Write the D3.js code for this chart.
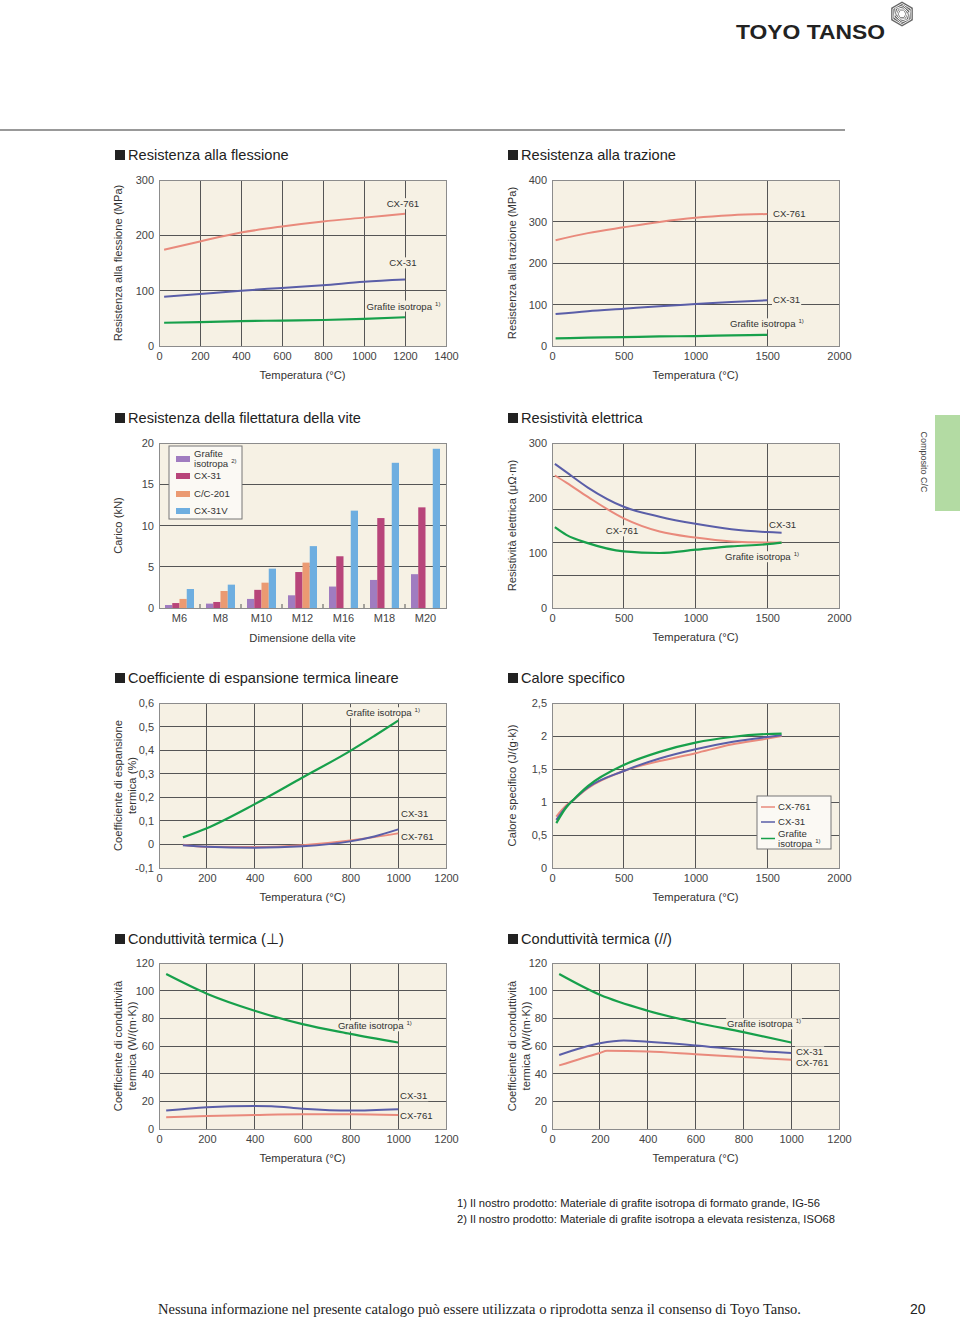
<!DOCTYPE html>
<html><head><meta charset="utf-8">
<script src="https://cdn.jsdelivr.net/npm/d3@7"></script>
<style>
body{margin:0;background:#fff;}
svg{display:block;}
</style></head><body>
<svg id="c" width="960" height="1319" font-family="'Liberation Sans',Arial,sans-serif"></svg>
<script>
// ---------- DATA ----------
// Resistenza alla flessione
const flexTemp = [25, 200, 400, 600, 800, 1000, 1200];
const flexCX761 = [174, 189, 205, 216, 225, 232, 239];
const flexCX31 = [89, 94, 100, 105, 110, 116, 120];
const flexIso = [42, 43, 45, 46, 47, 49, 52];
const flexXTicks = [0, 200, 400, 600, 800, 1000, 1200, 1400];
const flexYTicks = [0, 100, 200, 300];

// Resistenza alla trazione
const tensTemp = [25, 250, 500, 750, 1000, 1250, 1500];
const tensCX761 = [255, 272, 286, 299, 309, 315, 318];
const tensCX31 = [77, 84, 90, 96, 101, 106, 110];
const tensIso = [18.5, 20, 21.5, 23, 24, 25.5, 27];
const tensXTicks = [0, 500, 1000, 1500, 2000];
const tensYTicks = [0, 100, 200, 300, 400];

// Resistenza della filettatura della vite
const screwSizes = ["M6", "M8", "M10", "M12", "M16", "M18", "M20"];
const screwSeries = ["Grafite isotropa", "CX-31", "C/C-201", "CX-31V"];
const screwIso = [0.36, 0.53, 1.1, 1.54, 2.6, 3.4, 4.1];
const screwCX31 = [0.6, 0.73, 2.2, 4.36, 6.27, 10.9, 12.2];
const screwCC201 = [1.1, 2.06, 3.07, 5.5, null, null, null];
const screwCX31V = [2.3, 2.83, 4.77, 7.5, 11.8, 17.6, 19.3];
const screwYTicks = [0, 5, 10, 15, 20];

// Resistività elettrica
const resTemp = [20, 100, 250, 500, 750, 1000, 1250, 1500, 1600];
const resCX31 = [262, 247, 219, 184, 166, 153, 143, 138, 137];
const resCX761 = [241, 228, 202, 163, 139, 128, 121, 119, 119];
const resIso = [147, 133, 118, 103, 100, 106, 112, 116, 119];
const resXTicks = [0, 500, 1000, 1500, 2000];
const resYTicks = [0, 100, 200, 300];
const resYGrid = [60, 120, 180, 240];

// Coefficiente di espansione termica lineare
const expTemp = [100, 200, 400, 600, 800, 900, 1000];
const expIso = [0.03, 0.069, 0.171, 0.284, 0.397, 0.46, 0.525];
const expCX31 = [-0.004, -0.01, -0.014, -0.008, 0.013, 0.034, 0.064];
const expCX761 = [-0.001, -0.01, -0.011, -0.003, 0.017, 0.031, 0.047];
const expXTicks = [0, 200, 400, 600, 800, 1000, 1200];
const expYTicks = [-0.1, 0, 0.1, 0.2, 0.3, 0.4, 0.5, 0.6];

// Calore specifico
const heatTemp = [30, 100, 150, 250, 500, 750, 1000, 1250, 1500, 1600];
const heatIso = [0.68, 0.92, 1.035, 1.24, 1.56, 1.76, 1.90, 1.985, 2.03, 2.035];
const heatCX31 = [0.73, 0.93, 1.035, 1.22, 1.47, 1.66, 1.80, 1.91, 1.985, 2.01];
const heatCX761 = [0.78, 0.95, 1.035, 1.21, 1.47, 1.62, 1.74, 1.87, 1.96, 2.0];
const heatXTicks = [0, 500, 1000, 1500, 2000];
const heatYTicks = [0, 0.5, 1, 1.5, 2, 2.5];

// Conduttività termica (⊥)
const cpIsoTemp = [30, 200, 400, 600, 800, 1000];
const cpIso = [112, 97.8, 85.5, 75.8, 68.8, 62.5];
const cpCX31Temp = [30, 200, 400, 470, 600, 800, 1000];
const cpCX31 = [13.3, 15.7, 16.7, 16.5, 14.7, 13.3, 14.3];
const cpCX761Temp = [30, 200, 400, 600, 800, 1000];
const cpCX761 = [8.5, 9.4, 10.1, 10.6, 10.6, 10.1];

// Conduttività termica (//)
const clIsoTemp = [30, 200, 400, 600, 800, 1000];
const clIso = [112, 97, 85.5, 77, 70, 62.5];
const clCX31Temp = [30, 200, 300, 400, 600, 800, 1000];
const clCX31 = [53.5, 62, 64, 63, 60.4, 57.2, 55];
const clCX761Temp = [30, 200, 230, 400, 600, 800, 1000];
const clCX761 = [46, 55, 56.5, 56, 54, 52, 50];
const condXTicks = [0, 200, 400, 600, 800, 1000, 1200];
const condYTicks = [0, 20, 40, 60, 80, 100, 120];

// ---------- STYLE ----------
const BG = '#f6f1e4', GRID = '#555', FRAME = '#8c8c8c';
const cRed = '#e98a7c', cBlue = '#5a5ea8', cGreen = '#17a04b';
const barColors = ['#a07cc0', '#b8457a', '#eb9a72', '#6eaee0'];
const fmt = d => String(d).replace('.', ',');
const SANS = "'Liberation Sans',Arial,sans-serif";
const NARROW = "'Liberation Sans Narrow','Liberation Sans',Arial,sans-serif";
const TXT = '#333';

const svg = d3.select('#c');
svg.append('rect').attr('width', 960).attr('height', 1319).attr('fill', '#fff');

// Header
svg.append('line').attr('x1', 0).attr('x2', 845).attr('y1', 130).attr('y2', 130)
  .attr('stroke', '#777').attr('stroke-width', 1.5);
svg.append('text').attr('x', 736).attr('y', 39).attr('font-size', 21).attr('font-weight', 'bold')
  .attr('textLength', 149).attr('lengthAdjust', 'spacingAndGlyphs').attr('fill', '#222').text('TOYO TANSO');
{
  const lg = svg.append('g').attr('transform', 'translate(902,14)');
  const hex = r => d3.range(6).map(i => [r * Math.cos(Math.PI / 3 * i + Math.PI / 6), r * Math.sin(Math.PI / 3 * i + Math.PI / 6)]);
  lg.append('polygon').attr('points', hex(12.5).join(' ')).attr('fill', '#666');
  [10.5, 8.5, 6.5, 4.8].forEach((r, i) => {
    lg.append('polygon').attr('points', hex(r).join(' ')).attr('fill', 'none')
      .attr('stroke', '#fff').attr('stroke-width', 0.9).attr('transform', `rotate(${i * 9})`);
  });
  lg.append('polygon').attr('points', hex(3.6).join(' ')).attr('fill', '#fff').attr('transform', 'rotate(30)');
}

// Side tab
svg.append('rect').attr('x', 935).attr('y', 415).attr('width', 25).attr('height', 96).attr('fill', '#b3dba3');
svg.append('text').attr('transform', 'translate(921,462) rotate(90)').attr('text-anchor', 'middle')
  .attr('font-size', 9).attr('fill', '#444').text('Composito C/C');

function sectionTitle(x, y, txt) {
  svg.append('rect').attr('x', x).attr('y', y - 5).attr('width', 10).attr('height', 10).attr('fill', '#222');
  svg.append('text').attr('x', x + 13).attr('y', y).attr('dy', '0.35em').attr('font-size', 14.6)
    .attr('fill', '#222').text(txt);
}

function yTitle(x, cy, lines) {
  lines.forEach((l, i) => {
    svg.append('text').attr('transform', `translate(${x + i * 14.5},${cy}) rotate(-90)`)
      .attr('text-anchor', 'middle').attr('dy', '0.35em').attr('font-size', 11.2).attr('fill', TXT).text(l);
  });
}

function addLabel(g, px, py, txt, sup, anchor) {
  const lg = g.append('g');
  const bg = lg.append('rect').attr('fill', BG);
  const t = lg.append('text').attr('x', px).attr('y', py).attr('dy', '0.35em')
    .attr('font-size', 9.6).attr('text-anchor', anchor || 'start').attr('fill', TXT).text(txt);
  if (sup) t.append('tspan').attr('dx', 3).attr('dy', -4).attr('font-size', 6).text(sup);
  const b = t.node().getBBox();
  bg.attr('x', b.x - 1).attr('y', b.y).attr('width', b.width + 2).attr('height', b.height);
}

function styleAxis(a) {
  a.select('.domain').remove();
  a.attr('font-family', null).attr('font-size', null);
  a.selectAll('text').attr('font-family', NARROW).attr('font-size', 11).attr('fill', '#444');
}

function lineChart(o) {
  const g = svg.append('g');
  const x = d3.scaleLinear().domain(o.xDomain).range([o.left, o.right]);
  const y = d3.scaleLinear().domain(o.yDomain).range([o.bottom, o.top]);
  g.append('rect').attr('x', o.left).attr('y', o.top).attr('width', o.right - o.left)
    .attr('height', o.bottom - o.top).attr('fill', BG);
  g.selectAll(null).data(o.xGrid).join('line')
    .attr('x1', d => x(d)).attr('x2', d => x(d)).attr('y1', o.top).attr('y2', o.bottom)
    .attr('stroke', GRID).attr('stroke-width', 1).attr('shape-rendering', 'crispEdges');
  g.selectAll(null).data(o.yGrid).join('line')
    .attr('y1', d => y(d)).attr('y2', d => y(d)).attr('x1', o.left).attr('x2', o.right)
    .attr('stroke', GRID).attr('stroke-width', 1).attr('shape-rendering', 'crispEdges');
  g.append('rect').attr('x', o.left).attr('y', o.top).attr('width', o.right - o.left)
    .attr('height', o.bottom - o.top).attr('fill', 'none').attr('stroke', FRAME)
    .attr('shape-rendering', 'crispEdges');
  const ax = g.append('g').attr('transform', `translate(0,${o.bottom})`)
    .call(d3.axisBottom(x).tickValues(o.xTicks).tickSize(0).tickPadding(6).tickFormat(fmt));
  styleAxis(ax);
  const ay = g.append('g').attr('transform', `translate(${o.left},0)`)
    .call(d3.axisLeft(y).tickValues(o.yTicks).tickSize(0).tickPadding(5).tickFormat(fmt));
  styleAxis(ay);
  (o.labels || []).forEach(l => addLabel(g, x(l.x), y(l.y), l.text, l.sup, l.anchor));
  o.series.forEach(s => {
    const pts = s.x.map((v, i) => [v, s.y[i]]);
    g.append('path').datum(pts)
      .attr('d', d3.line().x(d => x(d[0])).y(d => y(d[1])).curve(d3.curveMonotoneX))
      .attr('fill', 'none').attr('stroke', s.color).attr('stroke-width', s.w || 2)
      .attr('stroke-linecap', 'butt');
  });
  sectionTitle(o.titleX, o.titleY, o.title);
  yTitle(o.yTitleX, (o.top + o.bottom) / 2, o.yTitle);
  g.append('text').attr('x', (o.left + o.right) / 2).attr('y', o.bottom + 29).attr('dy', '0.35em')
    .attr('text-anchor', 'middle').attr('font-size', 11.2).attr('fill', TXT).text(o.xTitle);
  return { g, x, y };
}

const L = { left: 159, right: 446, titleX: 115, yTitleX: 118 };
const R = { left: 552, right: 839, titleX: 508, yTitleX: 512 };
const rows = [{ top: 180, bottom: 346, titleY: 155 }, { top: 443, bottom: 608, titleY: 418 },
              { top: 703, bottom: 868, titleY: 678 }, { top: 963, bottom: 1129, titleY: 939 }];
const TEMP = 'Temperatura (°C)';

// 1. Flessione
lineChart(Object.assign({}, L, rows[0], {
  title: 'Resistenza alla flessione', yTitle: ['Resistenza alla flessione (MPa)'], xTitle: TEMP,
  xDomain: [0, 1400], yDomain: [0, 300], xTicks: flexXTicks, yTicks: flexYTicks,
  xGrid: [200, 400, 600, 800, 1000, 1200], yGrid: [100, 200],
  series: [{ x: flexTemp, y: flexCX761, color: cRed }, { x: flexTemp, y: flexCX31, color: cBlue },
           { x: flexTemp, y: flexIso, color: cGreen, w: 2.2 }],
  labels: [{ x: 1190, y: 257, text: 'CX-761', anchor: 'middle' }, { x: 1190, y: 150, text: 'CX-31', anchor: 'middle' },
           { x: 1012, y: 72, text: 'Grafite isotropa', sup: '1)' }]
}));

// 2. Trazione
lineChart(Object.assign({}, R, rows[0], {
  title: 'Resistenza alla trazione', yTitle: ['Resistenza alla trazione (MPa)'], xTitle: TEMP,
  xDomain: [0, 2000], yDomain: [0, 400], xTicks: tensXTicks, yTicks: tensYTicks,
  xGrid: [500, 1000, 1500], yGrid: [100, 200, 300],
  series: [{ x: tensTemp, y: tensCX761, color: cRed }, { x: tensTemp, y: tensCX31, color: cBlue },
           { x: tensTemp, y: tensIso, color: cGreen, w: 2.2 }],
  labels: [{ x: 1540, y: 320, text: 'CX-761' }, { x: 1540, y: 111, text: 'CX-31' },
           { x: 1240, y: 53, text: 'Grafite isotropa', sup: '1)' }]
}));

// 3. Bar chart
{
  const o = Object.assign({}, L, rows[1]);
  const g = svg.append('g');
  const x = d3.scaleBand().domain(screwSizes).range([o.left, o.right]).padding(0);
  const xi = d3.scaleBand().domain(screwSeries).range([6, x.bandwidth() - 6]).padding(0);
  const y = d3.scaleLinear().domain([0, 20]).range([o.bottom, o.top]);
  g.append('rect').attr('x', o.left).attr('y', o.top).attr('width', o.right - o.left)
    .attr('height', o.bottom - o.top).attr('fill', BG);
  g.selectAll(null).data([5, 10, 15]).join('line')
    .attr('y1', d => y(d)).attr('y2', d => y(d)).attr('x1', o.left).attr('x2', o.right)
    .attr('stroke', GRID).attr('shape-rendering', 'crispEdges');
  const vals = [screwIso, screwCX31, screwCC201, screwCX31V];
  vals.forEach((arr, si) => {
    g.selectAll(null).data(arr.map((v, i) => ({ v, c: screwSizes[i] })).filter(d => d.v != null)).join('rect')
      .attr('x', d => x(d.c) + xi(screwSeries[si])).attr('width', xi.bandwidth())
      .attr('y', d => y(d.v)).attr('height', d => y(0) - y(d.v)).attr('fill', barColors[si]);
  });
  g.selectAll(null).data(screwSizes.slice(1)).join('line')
    .attr('x1', d => x(d)).attr('x2', d => x(d)).attr('y1', o.bottom - 4).attr('y2', o.bottom)
    .attr('stroke', '#555');
  g.append('rect').attr('x', o.left).attr('y', o.top).attr('width', o.right - o.left)
    .attr('height', o.bottom - o.top).attr('fill', 'none').attr('stroke', FRAME).attr('shape-rendering', 'crispEdges');
  const ax = g.append('g').attr('transform', `translate(0,${o.bottom})`)
    .call(d3.axisBottom(x).tickSize(0).tickPadding(6));
  styleAxis(ax);
  const ay = g.append('g').attr('transform', `translate(${o.left},0)`)
    .call(d3.axisLeft(y).tickValues(screwYTicks).tickSize(0).tickPadding(5));
  styleAxis(ay);
  // legend
  const lg = g.append('g');
  lg.append('rect').attr('x', 169).attr('y', 446).attr('width', 73).attr('height', 73)
    .attr('fill', '#fbf9f4').attr('stroke', '#777');
  const legItems = [{ lines: ['Grafite', 'isotropa'], sup: '2)', cy: 459 }, { lines: ['CX-31'], cy: 476 },
                    { lines: ['C/C-201'], cy: 494 }, { lines: ['CX-31V'], cy: 511 }];
  legItems.forEach((it, i) => {
    lg.append('rect').attr('x', 176).attr('y', it.cy - 3).attr('width', 14).attr('height', 6).attr('fill', barColors[i]);
    it.lines.forEach((ln, j) => {
      const yy = it.cy + (j - (it.lines.length - 1) / 2) * 10;
      const t = lg.append('text').attr('x', 194).attr('y', yy).attr('dy', '0.35em').attr('font-size', 9.6).attr('fill', TXT).text(ln);
      if (it.sup && j === it.lines.length - 1) t.append('tspan').attr('dx', 3).attr('dy', -4).attr('font-size', 6).text(it.sup);
    });
  });
  sectionTitle(o.titleX, o.titleY, 'Resistenza della filettatura della vite');
  yTitle(o.yTitleX, (o.top + o.bottom) / 2, ['Carico (kN)']);
  g.append('text').attr('x', (o.left + o.right) / 2).attr('y', o.bottom + 30).attr('dy', '0.35em')
    .attr('text-anchor', 'middle').attr('font-size', 11.2).attr('fill', TXT).text('Dimensione della vite');
}

// 4. Resistività
lineChart(Object.assign({}, R, rows[1], {
  title: 'Resistività elettrica', yTitle: ['Resistività elettrica (μΩ·m)'], xTitle: TEMP,
  xDomain: [0, 2000], yDomain: [0, 300], xTicks: resXTicks, yTicks: resYTicks,
  xGrid: [500, 1000, 1500], yGrid: resYGrid,
  series: [{ x: resTemp, y: resCX761, color: cRed }, { x: resTemp, y: resCX31, color: cBlue },
           { x: resTemp, y: resIso, color: cGreen, w: 2.2 }],
  labels: [{ x: 488, y: 140, text: 'CX-761', anchor: 'middle' }, { x: 1512, y: 151, text: 'CX-31' },
           { x: 1206, y: 93, text: 'Grafite isotropa', sup: '1)' }]
}));

// 5. Espansione
lineChart(Object.assign({}, L, rows[2], {
  title: 'Coefficiente di espansione termica lineare', yTitle: ['Coefficiente di espansione', 'termica (%)'], xTitle: TEMP,
  xDomain: [0, 1200], yDomain: [-0.1, 0.6], xTicks: expXTicks, yTicks: expYTicks,
  xGrid: [200, 400, 600, 800, 1000], yGrid: [0, 0.1, 0.2, 0.3, 0.4, 0.5],
  series: [{ x: expTemp, y: expCX761, color: cRed }, { x: expTemp, y: expCX31, color: cBlue },
           { x: expTemp, y: expIso, color: cGreen, w: 2.2 }],
  labels: [{ x: 782, y: 0.558, text: 'Grafite isotropa', sup: '1)' }, { x: 1012, y: 0.129, text: 'CX-31' },
           { x: 1012, y: 0.032, text: 'CX-761' }]
}));

// 6. Calore specifico
{
  const c = lineChart(Object.assign({}, R, rows[2], {
    title: 'Calore specifico', yTitle: ['Calore specifico (J/(g·k))'], xTitle: TEMP,
    xDomain: [0, 2000], yDomain: [0, 2.5], xTicks: heatXTicks, yTicks: heatYTicks,
    xGrid: [500, 1000, 1500], yGrid: [0.5, 1, 1.5, 2],
    series: [{ x: heatTemp, y: heatCX761, color: cRed }, { x: heatTemp, y: heatCX31, color: cBlue },
             { x: heatTemp, y: heatIso, color: cGreen, w: 2.2 }]
  }));
  const lg = c.g.append('g');
  lg.append('rect').attr('x', 757).attr('y', 796).attr('width', 74).attr('height', 53)
    .attr('fill', '#fbf9f4').attr('stroke', '#777');
  const items = [{ lines: ['CX-761'], cy: 807, col: cRed }, { lines: ['CX-31'], cy: 822, col: cBlue },
                 { lines: ['Grafite', 'isotropa'], sup: '1)', cy: 838.5, col: cGreen }];
  items.forEach(it => {
    lg.append('line').attr('x1', 761).attr('x2', 775).attr('y1', it.cy).attr('y2', it.cy)
      .attr('stroke', it.col).attr('stroke-width', 1.5);
    it.lines.forEach((ln, j) => {
      const yy = it.cy + (j - (it.lines.length - 1) / 2) * 10.5;
      const t = lg.append('text').attr('x', 778).attr('y', yy).attr('dy', '0.35em').attr('font-size', 9.6).attr('fill', TXT).text(ln);
      if (it.sup && j === it.lines.length - 1) t.append('tspan').attr('dx', 3).attr('dy', -4).attr('font-size', 6).text(it.sup);
    });
  });
}

// 7. Conduttività ⊥
lineChart(Object.assign({}, L, rows[3], {
  title: 'Conduttività termica (⊥)', yTitle: ['Coefficiente di conduttività', 'termica (W/(m·K))'], xTitle: TEMP,
  xDomain: [0, 1200], yDomain: [0, 120], xTicks: condXTicks, yTicks: condYTicks,
  xGrid: [200, 400, 600, 800, 1000], yGrid: [20, 40, 60, 80, 100],
  series: [{ x: cpCX761Temp, y: cpCX761, color: cRed }, { x: cpCX31Temp, y: cpCX31, color: cBlue },
           { x: cpIsoTemp, y: cpIso, color: cGreen, w: 2.2 }],
  labels: [{ x: 748, y: 74.5, text: 'Grafite isotropa', sup: '1)' }, { x: 1008, y: 23.9, text: 'CX-31' },
           { x: 1008, y: 9.4, text: 'CX-761' }]
}));

// 8. Conduttività //
lineChart(Object.assign({}, R, rows[3], {
  title: 'Conduttività termica (//)', yTitle: ['Coefficiente di conduttività', 'termica (W/(m·K))'], xTitle: TEMP,
  xDomain: [0, 1200], yDomain: [0, 120], xTicks: condXTicks, yTicks: condYTicks,
  xGrid: [200, 400, 600, 800, 1000], yGrid: [20, 40, 60, 80, 100],
  series: [{ x: clCX761Temp, y: clCX761, color: cRed }, { x: clCX31Temp, y: clCX31, color: cBlue },
           { x: clIsoTemp, y: clIso, color: cGreen, w: 2.2 }],
  labels: [{ x: 732, y: 76, text: 'Grafite isotropa', sup: '1)' }, { x: 1020, y: 55.7, text: 'CX-31' },
           { x: 1020, y: 47.7, text: 'CX-761' }]
}));

// Footnotes
svg.append('text').attr('x', 457).attr('y', 1207).attr('font-size', 11).attr('font-family', NARROW)
  .attr('textLength', 363).attr('lengthAdjust', 'spacingAndGlyphs').attr('fill', '#222')
  .text('1) Il nostro prodotto: Materiale di grafite isotropa di formato grande, IG-56');
svg.append('text').attr('x', 457).attr('y', 1223).attr('font-size', 11).attr('font-family', NARROW)
  .attr('textLength', 378).attr('lengthAdjust', 'spacingAndGlyphs').attr('fill', '#222')
  .text('2) Il nostro prodotto: Materiale di grafite isotropa a elevata resistenza, ISO68');
svg.append('text').attr('x', 158).attr('y', 1314).attr('font-size', 14)
  .attr('font-family', "'Liberation Serif','Times New Roman',serif")
  .attr('textLength', 643).attr('lengthAdjust', 'spacingAndGlyphs').attr('fill', '#222')
  .text('Nessuna informazione nel presente catalogo può essere utilizzata o riprodotta senza il consenso di Toyo Tanso.');
svg.append('text').attr('x', 910).attr('y', 1314).attr('font-size', 14).attr('fill', '#222').text('20');
</script>
</body></html>
